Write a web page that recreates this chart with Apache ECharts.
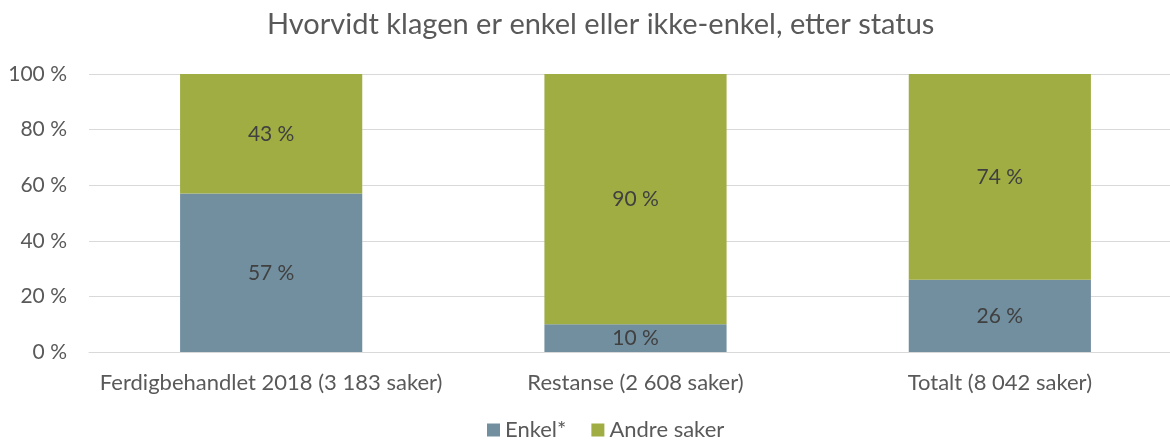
<!DOCTYPE html>
<html><head><meta charset="utf-8">
<script src="https://cdn.jsdelivr.net/npm/echarts@6/dist/echarts.min.js"></script>
<style>html,body{margin:0;padding:0;background:#fff;overflow:hidden;width:1170px;height:443px}#c{width:1182px;height:443px}</style>
</head><body><div id="c"></div>
<script>
const categories = ['Ferdigbehandlet 2018 (3 183 saker)', 'Restanse (2 608 saker)', 'Totalt (8 042 saker)'];
const enkel = [57, 10, 26];
const andre = [43, 90, 74];
const yTicks = [0, 20, 40, 60, 80, 100];
const FONT = 'Lato, sans-serif';
const chart = echarts.init(document.getElementById('c'));
const lbl = {show: true, position: 'inside', color: '#404040', fontSize: 21, fontFamily: FONT, formatter: p => p.value + ' %'};
chart.setOption({
  animation: false,
  title: {text: 'Hvorvidt klagen er enkel eller ikke-enkel, etter status', left: 262, top: 5,
    textStyle: {color: '#595959', fontSize: 29, fontWeight: 'normal', fontFamily: FONT}},
  legend: {left: 482, top: 414, itemWidth: 13, itemHeight: 13, itemGap: 25, icon: 'rect',
    textStyle: {color: '#595959', fontSize: 22, fontFamily: FONT}, data: ['Enkel*', 'Andre saker']},
  grid: {left: 89, top: 74, right: 0, height: 278},
  xAxis: {type: 'category', data: categories,
    axisLine: {lineStyle: {color: '#d9d9d9'}}, axisTick: {show: false},
    axisLabel: {color: '#595959', fontSize: 22, fontFamily: FONT, margin: 20, interval: 0}},
  yAxis: {type: 'value', min: 0, max: 100, interval: 20,
    axisLabel: {color: '#595959', fontSize: 21, fontFamily: FONT, margin: 22, formatter: v => yTicks.includes(v) ? v + ' %' : ''},
    splitLine: {lineStyle: {color: '#d9d9d9', width: 1}}, axisLine: {show: false}, axisTick: {show: false}},
  series: [
    {name: 'Enkel*', type: 'bar', stack: 's', data: enkel, barWidth: '50%', itemStyle: {color: '#728FA0'}, label: lbl},
    {name: 'Andre saker', type: 'bar', stack: 's', data: andre, barWidth: '50%', itemStyle: {color: '#A0AD42'}, label: lbl}
  ]
});
</script></body></html>
